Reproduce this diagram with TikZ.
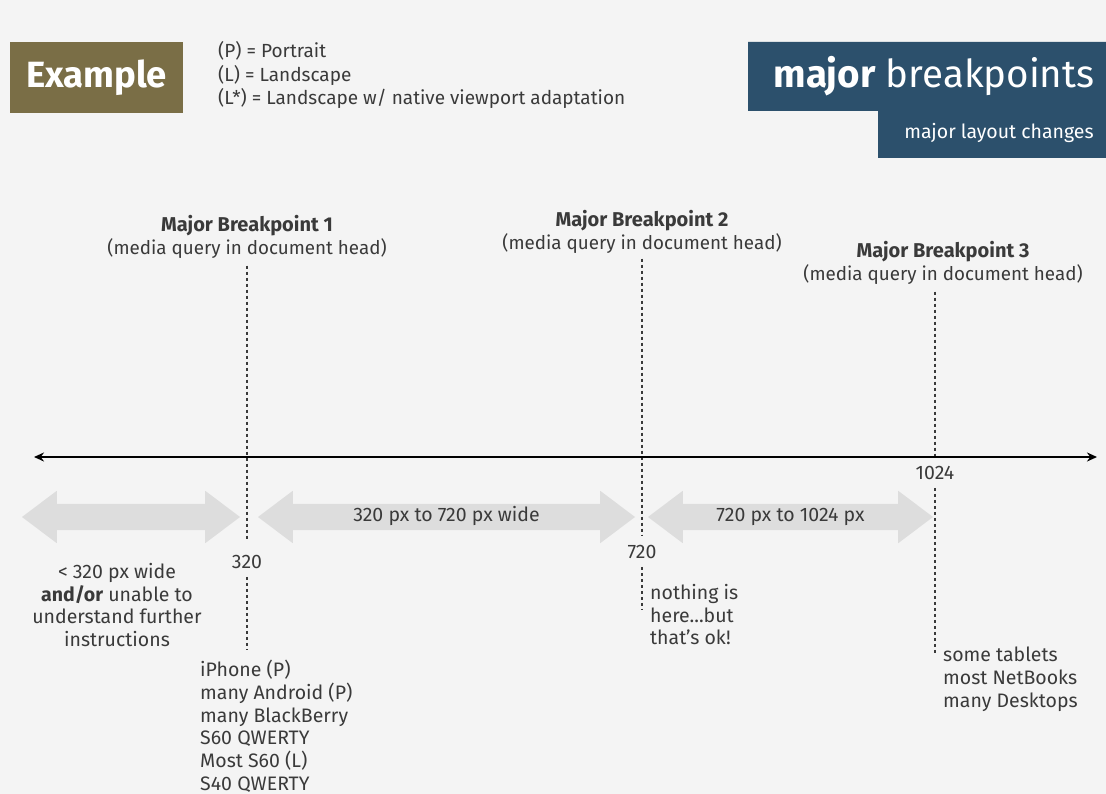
\documentclass[tikz,border=0pt]{standalone}
\usepackage{fontspec}
\setmainfont{Fira Sans}
\usetikzlibrary{positioning,shapes.arrows,arrows.meta}
\definecolor{bgc}{HTML}{F4F4F4}
\definecolor{olive}{HTML}{7A6E46}
\definecolor{navy}{HTML}{2C506C}
\definecolor{band}{HTML}{DDDDDD}
\definecolor{ink}{HTML}{3A3A3A}
\begin{document}
\begin{tikzpicture}[x=1pt, y=-1pt,
  txt/.style={text=ink, font=\fontsize{19.5}{22.7}\selectfont, inner sep=0pt},
  bp/.style={txt, font=\fontsize{18.8}{22.5}\selectfont, align=center},
  vline/.style={line width=1.4pt, dash pattern=on 3pt off 3pt, ink},
  rng/.style={double arrow, fill=band, text=ink, font=\fontsize{19.5}{20}\selectfont,
    double arrow head extend=13pt, double arrow tip angle=74,
    text height=13pt, text depth=4pt, inner ysep=4.5pt, inner xsep=0pt, minimum height=#1}]
\useasboundingbox (0,0) rectangle (1106,794);
\fill[bgc] (0,0) rectangle (1106,794);
% header
\node[fill=olive, text=white, font=\bfseries\fontsize{36.5}{36.5}\selectfont,
  minimum width=173pt, minimum height=71pt] (ex) at (96.5,77.5) {Example};
\node[txt, font=\fontsize{19}{23.5}\selectfont, align=left, anchor=west] (leg) at (218,75)
  {(P) = Portrait\\(L) = Landscape\\(L*) = Landscape w/ native viewport adaptation};
\fill[navy] (748,42) rectangle (1106,111) (878,110) rectangle (1106,158);
\node[text=white, font=\fontsize{38.5}{38.5}\selectfont] (mb) at (934,76) {\textbf{major} breakpoints};
\node[text=white, font=\fontsize{19.5}{20}\selectfont] (lc) at (999,133) {major layout changes};
% breakpoints
\node[bp] (bp1) at (247,237) {\textbf{\fontsize{20}{22.5}\selectfont Major Breakpoint 1}\\(media query in document head)};
\node[bp] (bp2) at (642,232) {\textbf{\fontsize{20}{22.5}\selectfont Major Breakpoint 2}\\(media query in document head)};
\node[bp] (bp3) at (943,263) {\textbf{\fontsize{20}{22.5}\selectfont Major Breakpoint 3}\\(media query in document head)};
\node[txt] (n320) at (247,562) {320};
\node[txt] (n720) at (642,552) {720};
\node[txt] (n1024) at (935,473) {1024};
\coordinate (e1) at (247,650);
\coordinate (e2) at (642,610);
\coordinate (e3) at (935,655);
\draw[vline] (bp1.south) ++(0,7) -- ([yshift=15pt]n320.north);
\draw[vline] ([yshift=-8pt]n320.south) -- (e1);
\draw[vline] (bp2.south) ++(0,5) -- ([yshift=10pt]n720.north);
\draw[vline] ([yshift=-8pt]n720.south) -- (e2);
\draw[vline] (n1024 |- bp3.south) ++(0,7) -- ([yshift=8pt]n1024.north);
\draw[vline] ([yshift=-8pt]n1024.south) -- (e3);
% axis
\coordinate (axl) at (34,457);
\coordinate (axr) at (1097,457);
\draw[line width=2.4pt, {Stealth[length=10pt,width=9pt]}-{Stealth[length=10pt,width=9pt]}] (axl) -- (axr);
% ranges
\node[rng=218pt] (r1) at (131,517) {};
\node[rng=377pt] (r2) at (446.5,517) {320 px to 720 px wide};
\node[rng=285pt] (r3) at (790.5,517) {720 px to 1024 px};
% devices
\node[txt, align=center] (low) at (117,605)
  {< 320 px wide\\\textbf{and/or} unable to\\understand further\\instructions};
\node[txt, align=left, anchor=north west] (dev) at (200,660)
  {iPhone (P)\\many Android (P)\\many BlackBerry\\S60 QWERTY\\Most S60 (L)\\S40 QWERTY};
\node[txt, align=left, anchor=north west] (none) at (650,584)
  {nothing is\\here...but\\that's ok!};
\node[txt, align=left, anchor=north west] (big) at (943,647)
  {some tablets\\most NetBooks\\many Desktops};
\end{tikzpicture}
\end{document}
